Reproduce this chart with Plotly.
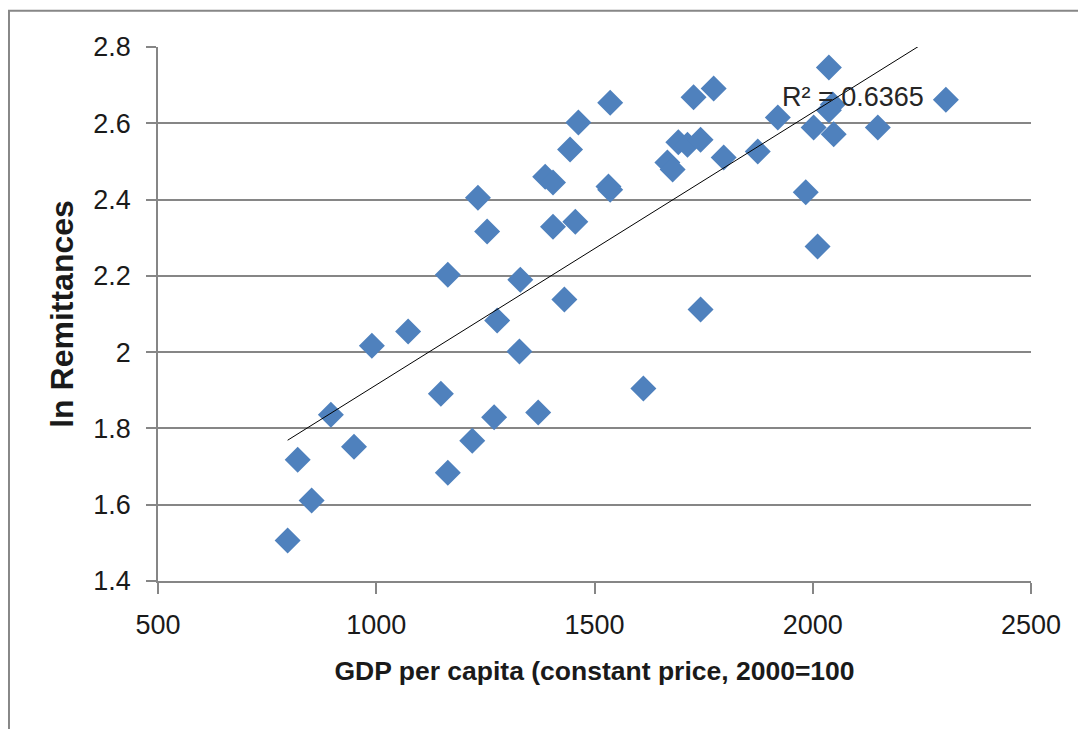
import numpy as np
import plotly.graph_objects as go

gdp = [797, 820, 852, 896, 949, 990, 1073, 1148, 1164, 1164, 1220, 1233, 1254, 1270,
       1277, 1330, 1328, 1371, 1387, 1405, 1405, 1431, 1444, 1456, 1463, 1532, 1536,
       1536, 1612, 1667, 1679, 1692, 1713, 1743, 1727, 1743, 1773, 1796, 1874, 1920,
       1984, 2002, 2011, 2037, 2046, 2037, 2048, 2149, 2305]
ln_rem = [1.506, 1.718, 1.611, 1.836, 1.752, 2.017, 2.054, 1.891, 2.203, 1.684, 1.768,
          2.405, 2.316, 1.829, 2.083, 2.190, 2.002, 1.842, 2.460, 2.445, 2.329, 2.138,
          2.531, 2.342, 2.602, 2.434, 2.426, 2.654, 1.905, 2.497, 2.479, 2.550, 2.544,
          2.557, 2.668, 2.112, 2.691, 2.510, 2.526, 2.615, 2.419, 2.589, 2.277, 2.746,
          2.649, 2.634, 2.571, 2.589, 2.662]
r2_label = "R² = 0.6365"
x_title = "GDP per capita (constant price, 2000=100"
y_title = "ln Remittances"

slope, intercept = np.polyfit(gdp, ln_rem, 1)
trend_x = [min(gdp), max(gdp)]
trend_y = [slope * v + intercept for v in trend_x]

FONT = "Liberation Sans, Arial, sans-serif"
GRID = "#868686"

fig = go.Figure()
fig.add_trace(go.Scatter(
    x=gdp, y=ln_rem, mode="markers",
    marker=dict(symbol="diamond", size=20, color="#4F81BD", line=dict(width=0)),
    showlegend=False, hoverinfo="x+y"))
fig.add_trace(go.Scatter(
    x=trend_x, y=trend_y, mode="lines",
    line=dict(color="#000000", width=1), showlegend=False, hoverinfo="skip"))

fig.add_annotation(x=1925, y=2.669, xref="x", yref="y", text=r2_label,
                   showarrow=False, xanchor="left", yanchor="middle",
                   font=dict(family=FONT, size=27, color="#262626"))

fig.add_shape(type="rect", xref="paper", yref="paper", x0=-0.1707, x1=1.1,
              y0=-0.4, y1=1.068, line=dict(color="#878787", width=2),
              layer="below")

fig.update_layout(
    width=1086, height=729,
    margin=dict(l=150, r=63, t=39, b=156),
    paper_bgcolor="white", plot_bgcolor="white",
    font=dict(family=FONT, size=27, color="#1a1a1a"),
    xaxis=dict(range=[500, 2500], dtick=500, tick0=500, showgrid=False,
               zeroline=False, showline=True, linecolor=GRID, linewidth=1.5,
               ticks="outside", ticklen=11, tickcolor=GRID, tickwidth=1.5,
               ticklabelstandoff=8,
               tickfont=dict(family=FONT, size=27),
               title=dict(text="<b>" + x_title + "</b>",
                          font=dict(family=FONT, size=26.5),
                          standoff=22)),
    yaxis=dict(range=[1.4, 2.8], dtick=0.2, tick0=1.4, showgrid=True,
               gridcolor=GRID, gridwidth=1.5, zeroline=False, showline=True,
               linecolor=GRID, linewidth=1.5, ticks="outside", ticklen=10,
               tickcolor=GRID, tickwidth=1.5, ticklabelstandoff=10,
               tickfont=dict(family=FONT, size=27),
               title=dict(text="<b>" + y_title + "</b>",
                          font=dict(family=FONT, size=32),
                          standoff=10)),
)

fig.write_html("out.html")
